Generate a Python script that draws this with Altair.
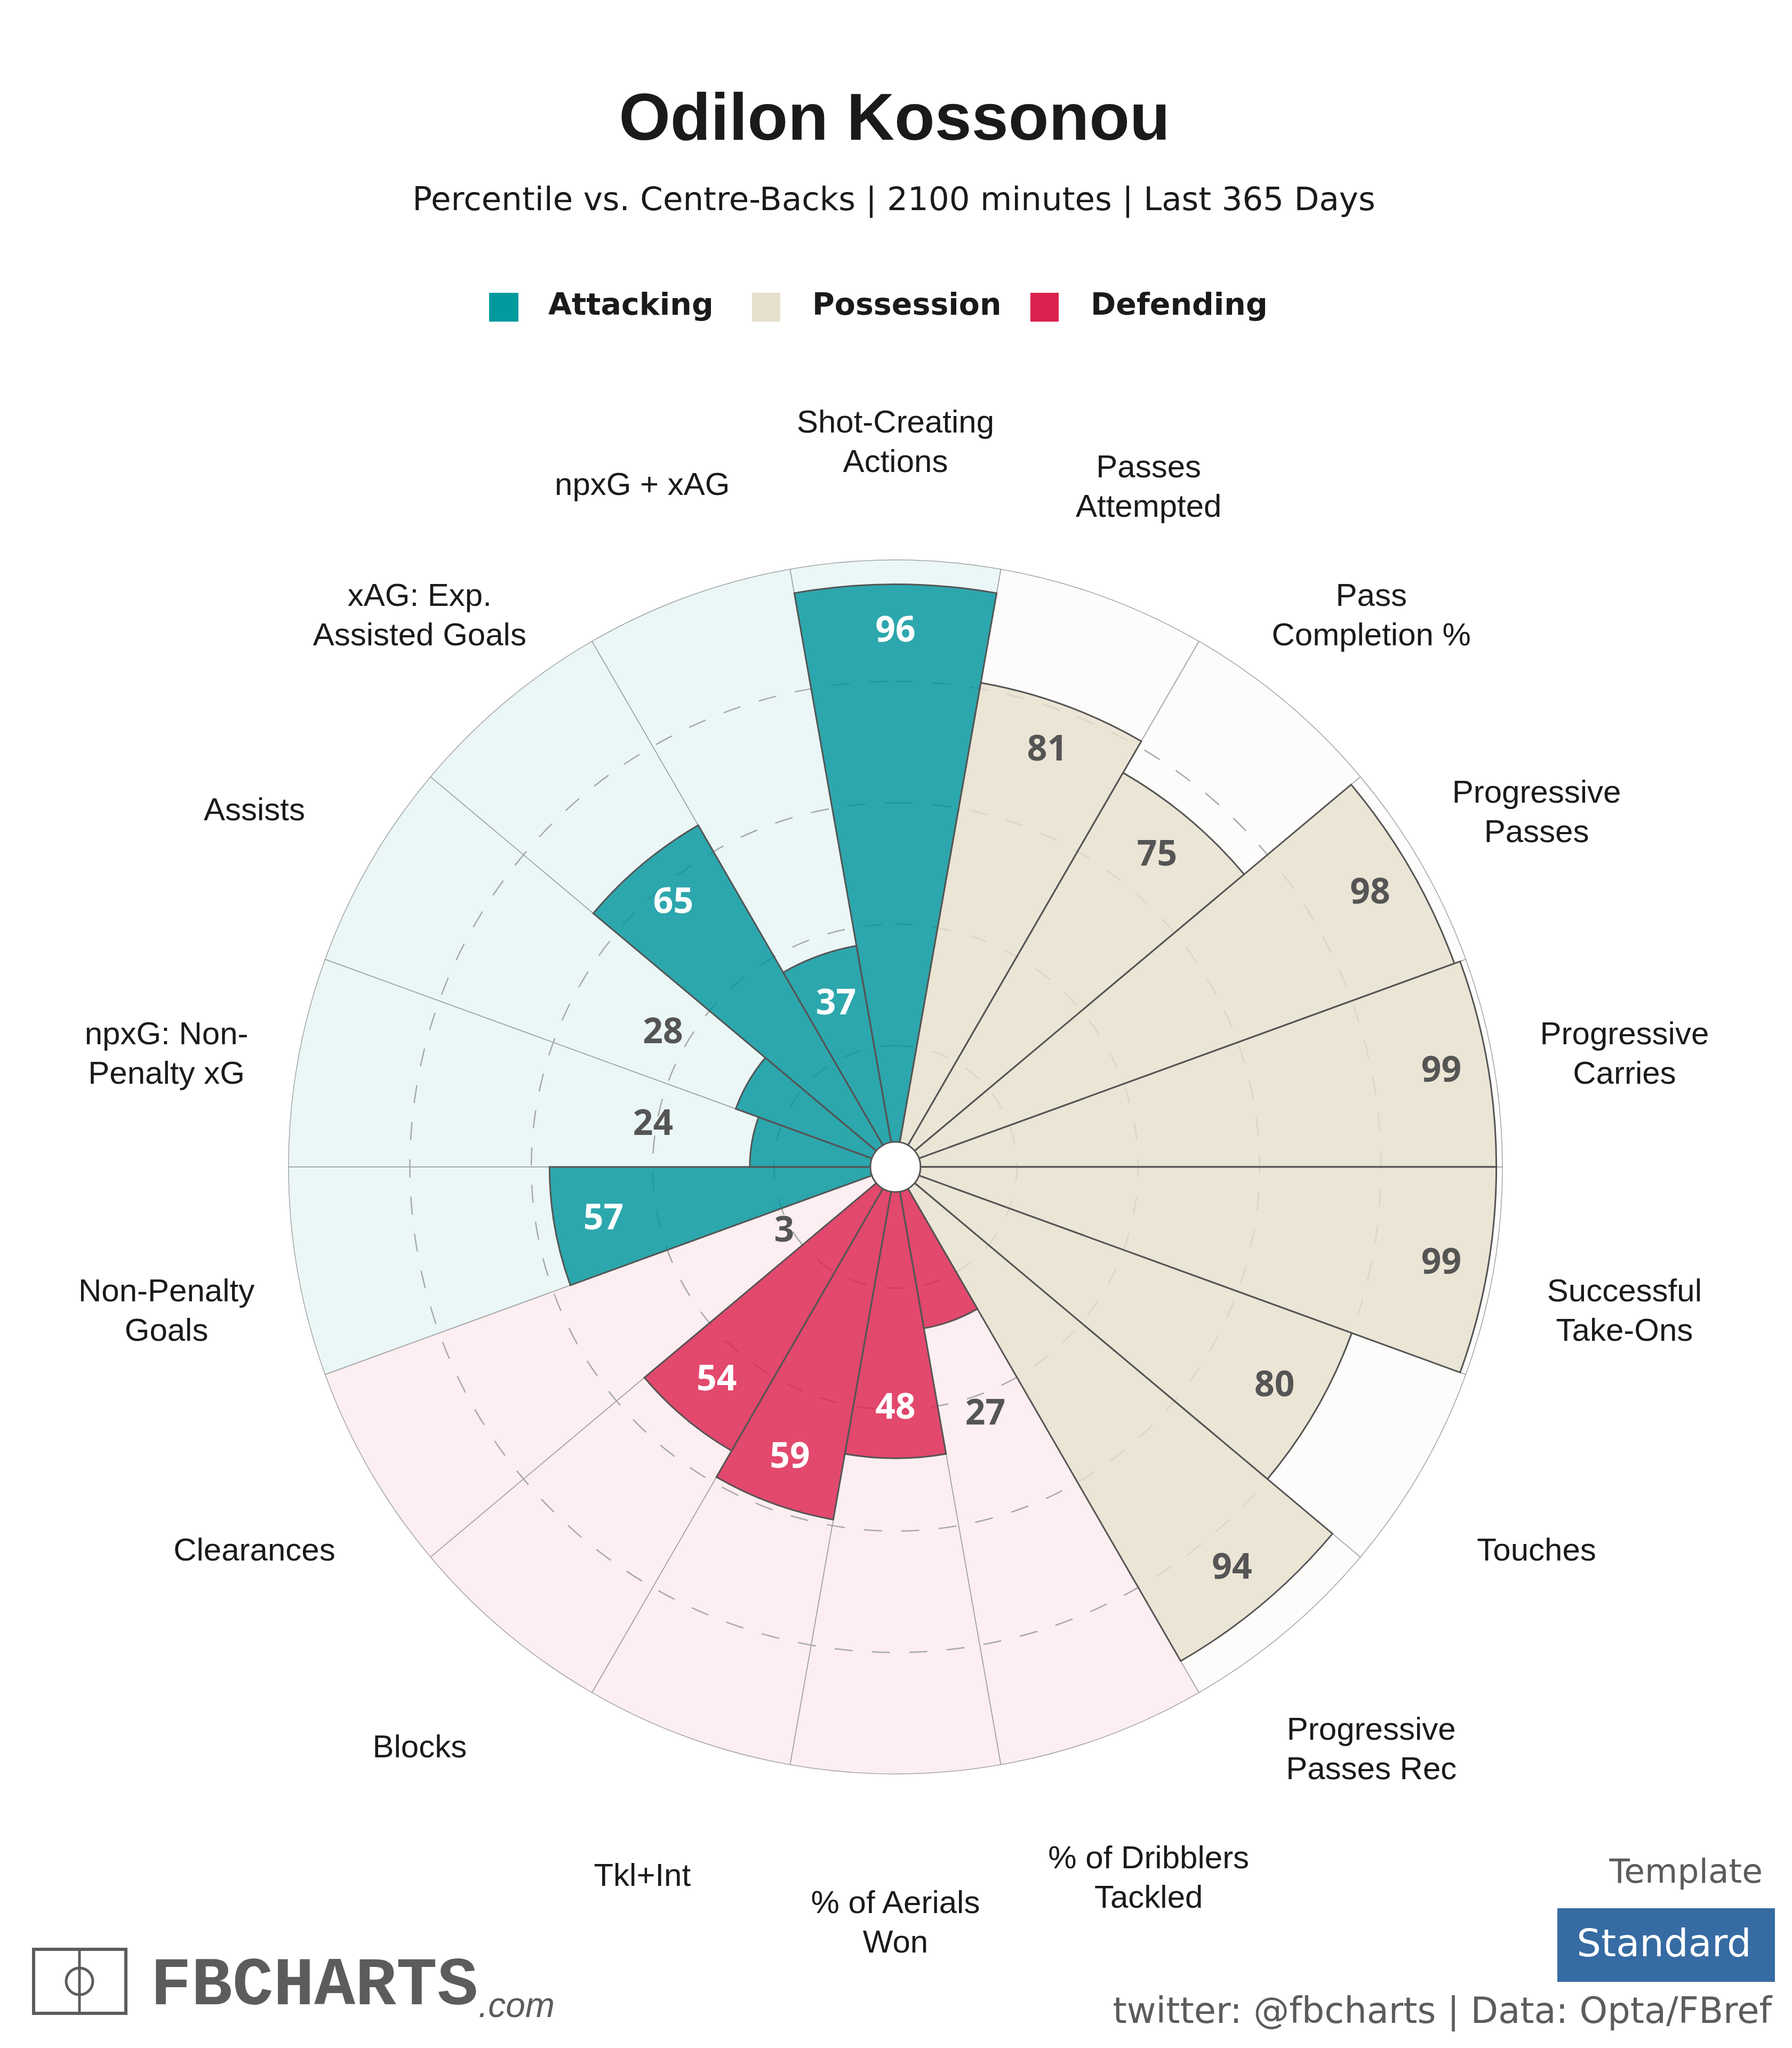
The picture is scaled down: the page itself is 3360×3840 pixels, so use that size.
import altair as alt
import pandas as pd

metrics = ["Shot-Creating\nActions", "Passes\nAttempted", "Pass\nCompletion %", "Progressive\nPasses",
           "Progressive\nCarries", "Successful\nTake-Ons", "Touches", "Progressive\nPasses Rec",
           "% of Dribblers\nTackled", "% of Aerials\nWon", "Tkl+Int", "Blocks", "Clearances",
           "Non-Penalty\nGoals", "npxG: Non-\nPenalty xG", "Assists", "xAG: Exp.\nAssisted Goals", "npxG + xAG"]
values = [96, 81, 75, 98, 99, 99, 80, 94, 27, 48, 59, 54, 3, 57, 24, 28, 65, 37]
groups = ["Attacking"] + ["Possession"] * 7 + ["Defending"] * 5 + ["Attacking"] * 5
group_names = ["Attacking", "Possession", "Defending"]
group_colors = ["#009a9f", "#e6dfcc", "#dc214e"]
bar_colors = ["#00949b", "#e6dfcc", "#dc214e"]
ring_levels = [20, 40, 60, 80]

W, H = 3344, 3824
CX, CY = 1679 - 8, 2188 - 8
R1 = 1138

df = pd.DataFrame({"metric": metrics, "value": values, "group": groups})
df["i"] = range(len(df))
df["full"] = 100
df["zero"] = 0

th = dict(scale=alt.Scale(domain=[0, 18], range=[-0.174533, 6.108652]), stack=None)
rad = alt.Scale(type="linear", domain=[0, 100], range=[0, R1])
col = alt.Color("group:N", scale=alt.Scale(domain=group_names, range=group_colors), legend=None)
col_bar = alt.Color("group:N", scale=alt.Scale(domain=group_names, range=bar_colors), legend=None)
cx, cy = alt.value(CX), alt.value(CY)

base = alt.Chart(df).transform_calculate(i2="datum.i+1", mid="datum.i+0.5")

bg = base.mark_arc(fillOpacity=0.08, stroke="#a3a3a3", strokeWidth=1.5).encode(
    x=cx, y=cy, theta=alt.Theta("i:Q", **th), theta2="i2:Q",
    radius=alt.Radius("full:Q", scale=rad), radius2="zero:Q", color=col)

rings = alt.Chart(pd.DataFrame({"level": ring_levels})).mark_arc(
    filled=False, fill=None, stroke="#a8a8a8", strokeWidth=2.5, strokeDash=[34, 36]).encode(
    x=cx, y=cy, theta=alt.value(0), theta2=alt.value(6.2832),
    radius=alt.Radius("level:Q", scale=rad, stack=None), radius2=alt.value(0))

bars = base.mark_arc(fillOpacity=0.81, stroke="#555555", strokeWidth=3).encode(
    x=cx, y=cy, theta=alt.Theta("i:Q", **th), theta2="i2:Q",
    radius=alt.Radius("value:Q", scale=rad), radius2="zero:Q", color=col_bar)

hub = alt.Chart(pd.DataFrame({"a": [1]})).mark_point(
    filled=True, fill="white", stroke="#555555", strokeWidth=3, opacity=1, size=8836).encode(x=cx, y=cy)

vals = base.transform_calculate(
    lab="datum.value < 30 ? 18.4 + 0.923 * datum.value : -8.77 + 1.011 * datum.value",
    tc="(datum.value < 30 || datum.group == 'Possession') ? '#555555' : '#ffffff'",
).mark_text(font="Noto Sans", fontWeight="bold", fontSize=66).encode(
    x=cx, y=cy, theta=alt.Theta("mid:Q", **th),
    radius=alt.Radius("lab:Q", scale=rad), text="value:Q", color=alt.Color("tc:N", scale=None))

cat_style = dict(font="Liberation Sans", fontSize=60, color="#1a1a1a", lineBreak="\n", lineHeight=74)
cat_enc = dict(x=cx, y=cy, theta=alt.Theta("mid:Q", **th), radius=alt.value(1388), text="metric:N")
cats1 = base.transform_filter("indexof(datum.metric, '\\n') < 0").mark_text(dy=26, **cat_style).encode(**cat_enc)
cats2 = base.transform_filter("indexof(datum.metric, '\\n') >= 0").mark_text(dy=-7, **cat_style).encode(**cat_enc)


def txt(s, x, y, size, color="#1a1a1a", font="Open Sans", weight="normal", align="center", style="normal"):
    return alt.Chart(pd.DataFrame({"t": [s]})).mark_text(
        font=font, fontSize=size, color=color, fontWeight=weight, align=align,
        baseline="alphabetic", fontStyle=style).encode(text="t:N", x=alt.value(x - 8), y=alt.value(y - 8))


def rect(x0, y0, x1, y1, color):
    return alt.Chart(pd.DataFrame({"a": [1]})).mark_rect(color=color).encode(
        x=alt.value(x0 - 8), x2=alt.value(x1 - 8), y=alt.value(y0 - 8), y2=alt.value(y1 - 8))


GREY = "#5c5c5c"
deco = [
    txt("Odilon Kossonou", 1677, 262, 124, font="Liberation Sans", weight="bold"),
    txt("Percentile vs. Centre-Backs | 2100 minutes | Last 365 Days", 1676, 394, 61, font="DejaVu Sans"),
    rect(917, 549, 972, 603, group_colors[0]), txt(group_names[0], 1028, 590, 57, font="DejaVu Sans", weight="bold", align="left"),
    rect(1410, 549, 1463, 603, group_colors[1]), txt(group_names[1], 1523, 590, 57, font="DejaVu Sans", weight="bold", align="left"),
    rect(1932, 549, 1985, 603, group_colors[2]), txt(group_names[2], 2045, 590, 57, font="DejaVu Sans", weight="bold", align="left"),
    # logo
    alt.Chart(pd.DataFrame({"a": [1]})).mark_rect(fill="white", stroke=GREY, strokeWidth=6).encode(
        x=alt.value(63 - 8), x2=alt.value(236 - 8), y=alt.value(3655 - 8), y2=alt.value(3775 - 8)),
    alt.Chart(pd.DataFrame({"a": [1]})).mark_rule(color=GREY, strokeWidth=5).encode(
        x=alt.value(149 - 8), y=alt.value(3655 - 8), y2=alt.value(3775 - 8)),
    alt.Chart(pd.DataFrame({"a": [1]})).mark_point(shape="circle", filled=False, stroke=GREY, strokeWidth=5, opacity=1, size=2500).encode(
        x=alt.value(149 - 8), y=alt.value(3715 - 8)),
    txt("FBCHARTS", 282, 3758, 128, color=GREY, font="Liberation Mono", weight="bold", align="left"),
    txt(".com", 897, 3782, 66, color=GREY, font="Liberation Sans", align="left", style="italic"),
    txt("Template", 3305, 3530, 63, color=GREY, font="DejaVu Sans", align="right"),
    rect(2920, 3578, 3328, 3716, "#366ba3"),
    txt("Standard", 3120, 3668, 72, color="white", font="DejaVu Sans"),
    txt("twitter: @fbcharts | Data: Opta/FBref", 3322, 3793, 67, color=GREY, font="DejaVu Sans", align="right"),
]

chart = alt.layer(bg, rings, bars, hub, vals, cats1, cats2, *deco).resolve_scale(color="independent").properties(
    width=W, height=H, padding=0, autosize=alt.AutoSizeParams(type="none"), background="white"
).configure_view(stroke=None)

chart.save("out.html", embed_options={"renderer": "svg", "actions": False})
